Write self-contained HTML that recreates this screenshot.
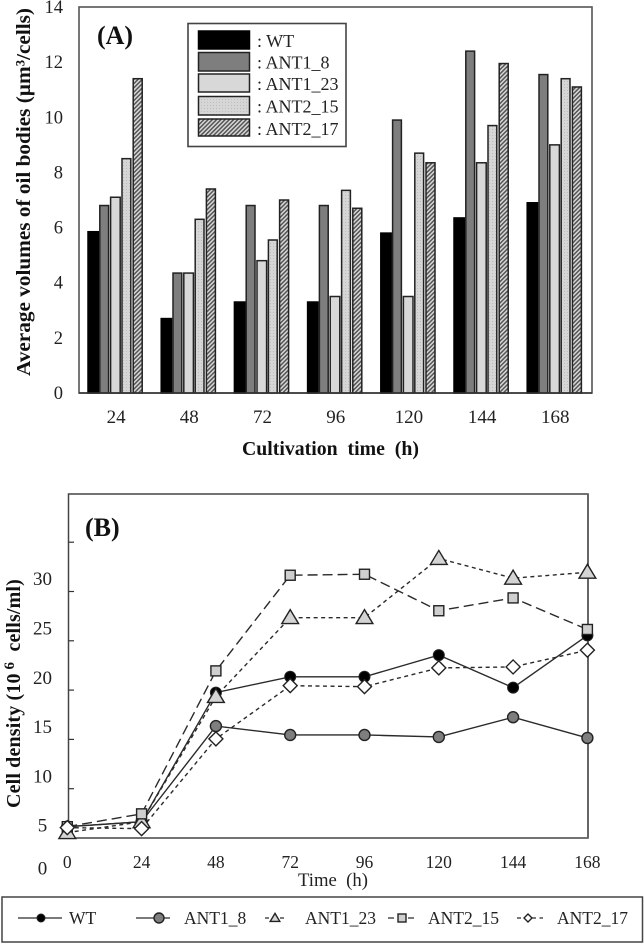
<!DOCTYPE html>
<html lang="en">
<head>
<meta charset="utf-8">
<title>Oil body volumes and cell density</title>
<style>
html,body{margin:0;padding:0;background:#fff;width:644px;height:944px;overflow:hidden}
svg{display:block;font-family:"Liberation Serif",serif;fill:#222;filter:blur(0.35px)}
</style>
</head>
<body>
<svg id="fig" width="644" height="944" viewBox="0 0 644 944" xmlns="http://www.w3.org/2000/svg">
<defs>
<pattern id="dots" width="3" height="3" patternUnits="userSpaceOnUse"><rect width="3" height="3" fill="#d6d6d6"/><rect width="1" height="1" fill="#bcbcbc"/></pattern>
<pattern id="hatch" width="3" height="3" patternUnits="userSpaceOnUse" patternTransform="rotate(-45)"><rect width="3" height="3" fill="#d8d8d8"/><rect width="3" height="1.5" fill="#555"/></pattern>
</defs>

<g id="panelA">
<rect x="79" y="7" width="513" height="386" fill="#fff" stroke="#555" stroke-width="1.6"/>
<g id="barsA"></g>
<line x1="79" y1="393" x2="592" y2="393" stroke="#333" stroke-width="1.6"/>
<g id="ticksA"></g>
<text x="97" y="44" font-size="26" font-weight="bold" fill="#111">(A)</text>
<text transform="translate(30,376) rotate(-90)" font-size="20.5" font-weight="bold" fill="#111" textLength="368" lengthAdjust="spacingAndGlyphs">Average volumes of oil bodies (µm³/cells)</text>
<text xml:space="preserve" x="242" y="455" font-size="20.5" font-weight="bold" fill="#111" textLength="177" lengthAdjust="spacingAndGlyphs">Cultivation  time  (h)</text>
<g>
<rect x="188" y="23.500" width="158" height="123" fill="#fff" stroke="#444" stroke-width="1.600"/>
<g id="legendA"></g>
</g>
</g>

<g id="panelB">
<rect x="68.500" y="494" width="519.500" height="344" fill="#fff" stroke="#444" stroke-width="1.500"/>
<line x1="588" y1="494" x2="588" y2="838" stroke="#666" stroke-width="2"/>
<g id="ticksB"></g>
<g id="linesB"></g>
<text x="85" y="536" font-size="26" font-weight="bold" fill="#111">(B)</text>
<text xml:space="preserve" transform="translate(20,808) rotate(-90)" font-size="20" font-weight="bold" fill="#111" letter-spacing="0.15">Cell density (10<tspan dy="-6" font-size="15"> 6</tspan><tspan dy="6">  cells/ml)</tspan></text>
<text xml:space="preserve" x="298" y="886" font-size="19" fill="#222" textLength="70" lengthAdjust="spacingAndGlyphs">Time  (h)</text>
</g>

<g>
<rect x="2" y="897" width="640.500" height="45" fill="#fff" stroke="#444" stroke-width="1.500"/>
<g id="legendB"></g>
</g>
</svg>

<script>
const seriesNames = ["WT", "ANT1_8", "ANT1_23", "ANT2_15", "ANT2_17"];

const barCategories = ["24", "48", "72", "96", "120", "144", "168"];
const barTickLabels = [0, 2, 4, 6, 8, 10, 12, 14];
const barsWT = [5.85, 2.7, 3.3, 3.3, 5.8, 6.35, 6.9];
const barsANT1_8 = [6.8, 4.35, 6.8, 6.8, 9.9, 12.4, 11.55];
const barsANT1_23 = [7.1, 4.35, 4.8, 3.5, 3.5, 8.35, 9.0];
const barsANT2_15 = [8.5, 6.3, 5.55, 7.35, 8.7, 9.7, 11.4];
const barsANT2_17 = [11.4, 7.4, 7.0, 6.7, 8.35, 11.95, 11.1];

const lineTimes = [0, 24, 48, 72, 96, 120, 144, 168];
const lineTickLabels = [0, 5, 10, 15, 20, 25, 30];
const lineWT = [4.8, 5.3, 18.4, 20.0, 20.0, 22.2, 18.9, 24.2];
const lineANT1_8 = [4.8, 5.3, 15.0, 14.1, 14.1, 13.9, 15.9, 13.8];
const lineANT1_23 = [4.2, 5.3, 18.0, 26.0, 26.0, 32.0, 30.0, 30.6];
const lineANT2_15 = [4.8, 6.1, 20.6, 30.3, 30.4, 26.7, 28.0, 24.8];
const lineANT2_17 = [4.7, 4.6, 13.7, 19.1, 19.0, 20.9, 21.0, 22.7];

const NS = "http://www.w3.org/2000/svg";
function mk(parent, tag, attrs, name) {
  const el = document.createElementNS(NS, tag);
  for (const k in attrs) el.setAttribute(k, attrs[k]);
  
  
  parent.appendChild(el);
  return el;
}

/* Panel A */
const xBand = i => 115.6 + i * 73.2;
const yA = v => 393 - v * 27.57;
const barOffsets = [-27.6, -15.8, -5, 6.4, 17.6];
const barWidths = [10.4, 8.8, 9.6, 8.8, 9];
const barFills = ["#000", "#7e7e7e", "#d8d8d8", "url(#dots)", "url(#hatch)"];
const barSeries = [barsWT, barsANT1_8, barsANT1_23, barsANT2_15, barsANT2_17];
const barsG = document.getElementById("barsA");
barSeries.forEach((vals, s) => {
  vals.forEach((v, i) => {
    mk(barsG, "rect", {
      x: xBand(i) + barOffsets[s], y: yA(v), width: barWidths[s], height: 393 - yA(v),
      fill: barFills[s], stroke: s === 0 ? "#000" : "#222", "stroke-width": 1.5
    }, "bar-" + seriesNames[s].toLowerCase().replace("_", "-") + "-" + barCategories[i]);
  });
});
const ticksA = document.getElementById("ticksA");
barTickLabels.forEach(v => {
  const t = mk(ticksA, "text", {x: 63, y: yA(v) + 6, "font-size": 18.5, "text-anchor": "end"}, "y-tick-label-" + v);
  t.textContent = v;
});
barCategories.forEach((c, i) => {
  const t = mk(ticksA, "text", {x: xBand(i) + 0.5, y: 423, "font-size": 19, "text-anchor": "middle"}, "x-tick-label-" + c);
  t.textContent = c;
});
const legendA = document.getElementById("legendA");
const legendAY = [31, 52.5, 74, 96.5, 119];
const legendAH = [18, 18.500, 18, 18.500, 17];
seriesNames.forEach((n, s) => {
  mk(legendA, "rect", {x: 198.500, y: legendAY[s], width: 51, height: legendAH[s], fill: barFills[s], stroke: s === 0 ? "#000" : "#222", "stroke-width": 1.5}, "legend-swatch-" + n.toLowerCase().replace("_", "-"));
  const t = mk(legendA, "text", {x: 257, y: legendAY[s] + 16, "font-size": 18}, "legend-label-" + n.toLowerCase().replace("_", "-"));
  t.textContent = ": " + n;
});

/* Panel B */
const xB = t => 67.3 + t * 74.3 / 24;
const yB = v => 874 - v * 9.86;
const tickShift = 36;
const ticksB = document.getElementById("ticksB");
lineTickLabels.forEach(v => {
  const yy = yB(v) - tickShift;
  if (v > 0) mk(ticksB, "line", {x1: 68.5, x2: 74, y1: yy, y2: yy, stroke: "#333", "stroke-width": 1.2}, "y-tick-mark-" + v);
  const t = mk(ticksB, "text", {x: 42.5, y: yB(v) + (v === 0 ? 0.5 : 7), "font-size": 19, "text-anchor": "middle"}, "y-tick-label-" + v);
  t.textContent = v;
});
lineTimes.forEach(tv => {
  const t = mk(ticksB, "text", {x: xB(tv), y: 868, "font-size": 17.5, "text-anchor": "middle"}, "x-tick-label-" + tv);
  t.textContent = tv;
});

function marker(parent, kind, x, y, r, name) {
  const stroke = "#222", sw = 1.4;
  if (kind === "filled") return mk(parent, "circle", {cx: x, cy: y, r: r, fill: "#000", stroke: stroke, "stroke-width": 1}, name);
  if (kind === "gray") return mk(parent, "circle", {cx: x, cy: y, r: r, fill: "#7e7e7e", stroke: stroke, "stroke-width": sw}, name);
  if (kind === "tri") return mk(parent, "polygon", {points: (x) + "," + (y - r * 1.15) + " " + (x + r * 1.2) + "," + (y + r * 0.85) + " " + (x - r * 1.2) + "," + (y + r * 0.85), fill: "#d4d4d4", stroke: stroke, "stroke-width": sw}, name);
  if (kind === "sq") return mk(parent, "rect", {x: x - r, y: y - r, width: 2 * r, height: 2 * r, fill: "#cfcfcf", stroke: stroke, "stroke-width": sw}, name);
  return mk(parent, "polygon", {points: x + "," + (y - r) + " " + (x + r) + "," + y + " " + x + "," + (y + r) + " " + (x - r) + "," + y, fill: "#fff", stroke: stroke, "stroke-width": sw}, name);
}

const lineSeries = [lineANT1_8, lineWT, lineANT1_23, lineANT2_15, lineANT2_17];
const lineNames = ["ANT1_8", "WT", "ANT1_23", "ANT2_15", "ANT2_17"];
const lineKinds = ["gray", "filled", "tri", "sq", "dia"];
const lineDash = ["", "", "4 3.5", "10 5", "4 3.5"];
const lineR = [5.5, 5.5, 7, 5, 7];
const linesB = document.getElementById("linesB");
lineSeries.forEach((vals, s) => {
  const id = lineNames[s].toLowerCase().replace("_", "-");
  mk(linesB, "polyline", {
    points: vals.map((v, i) => xB(lineTimes[i]) + "," + yB(v)).join(" "),
    fill: "none", stroke: "#2a2a2a", "stroke-width": 1.4, "stroke-dasharray": lineDash[s]
  }, "line-" + id);
});
lineSeries.forEach((vals, s) => {
  const id = lineNames[s].toLowerCase().replace("_", "-");
  vals.forEach((v, i) => marker(linesB, lineKinds[s], xB(lineTimes[i]), yB(v), lineR[s], "point-" + id + "-" + lineTimes[i]));
});

/* Panel B legend */
const legendB = document.getElementById("legendB");
const lgKinds = ["filled", "gray", "tri", "sq", "dia"];
const lgDash = ["", "", "4 3.5", "6 4", "4 3.5"];
const lgLine = [[18, 62], [136, 170], [265, 285], [388, 415], [517, 543]];
const lgMark = [41, 159, 275, 402, 528];
const lgText = [69, 184, 305, 428, 557];
const lgR = [4, 5, 4, 4, 4];
seriesNames.forEach((n, s) => {
  const id = n.toLowerCase().replace("_", "-");
  mk(legendB, "line", {x1: lgLine[s][0], x2: lgLine[s][1], y1: 918, y2: 918, stroke: "#2a2a2a", "stroke-width": 1.3, "stroke-dasharray": lgDash[s]}, "legend-line-" + id);
  marker(legendB, lgKinds[s], lgMark[s], 918, lgR[s], "legend-marker-" + id);
  const t = mk(legendB, "text", {x: lgText[s], y: 924, "font-size": 17.5}, "legend-label-" + id);
  t.textContent = n;
});
</script>
</body>
</html>
